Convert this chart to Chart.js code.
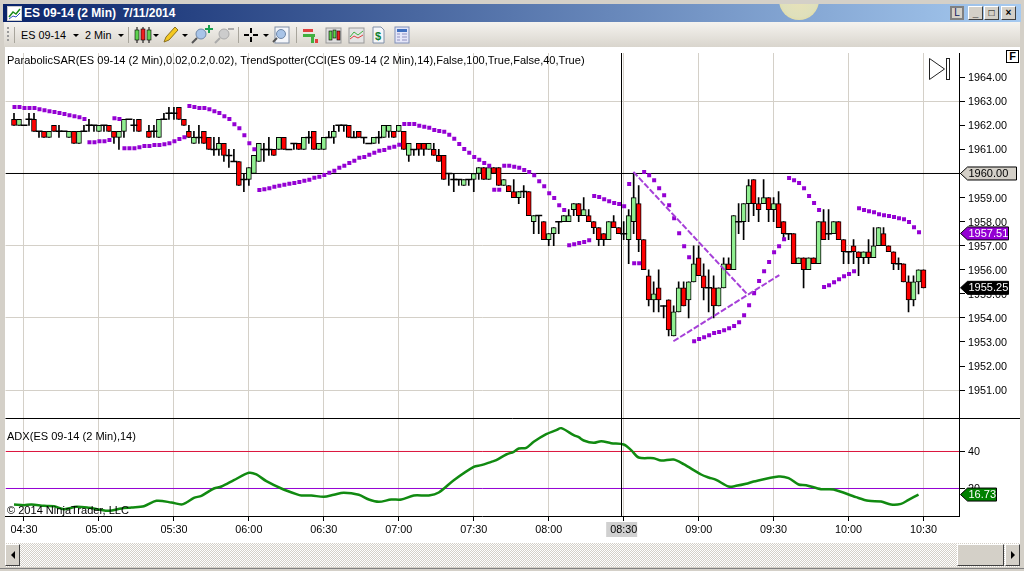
<!DOCTYPE html>
<html>
<head>
<meta charset="utf-8">
<title>ES 09-14 (2 Min)</title>
<script src="https://cdn.jsdelivr.net/npm/chart.js@4/dist/chart.umd.min.js"></script>
<style>
html, body { margin: 0; padding: 0; width: 1024px; height: 571px; overflow: hidden; background: #d4d0c8; font-family: "Liberation Sans", Arial, sans-serif; }
div, svg, canvas { position: absolute; }
#titlebar { left: 3px; top: 4px; width: 1018px; height: 18px; overflow: hidden; background: linear-gradient(to right, #0a246a, #a6caf0); }
#sun { left: 776px; top: -24px; width: 40px; height: 40px; border-radius: 50%; background: radial-gradient(circle at 50% 50%, #e8e2b8 0, #dfe0bc 60%, #e6d98e 92%, #d8d2a0 100%); }
#titletext { left: 21px; top: 2px; color: #fff; font: bold 12px "Liberation Sans", sans-serif; white-space: pre; }
.winbtn { top: 6px; height: 14px; width: 15px; background: #d4d0c8; border-top: 1px solid #fff; border-left: 1px solid #fff; border-right: 1px solid #404040; border-bottom: 1px solid #404040; box-sizing: border-box; color: #000; font: bold 10px "Liberation Sans"; text-align: center; line-height: 12px; }
#toolbar { left: 4px; top: 22px; width: 1016px; height: 25px; background: linear-gradient(to bottom, #f5f3ef, #d9d5cd); }
.tbtext { top: 7px; font: 10.8px "Liberation Sans"; color: #000; }
.sep { top: 5px; width: 1px; height: 16px; background: #a8a59c; }
#panel { left: 5px; top: 47px; width: 1015px; height: 496px; background: #fff; }
#chart { left: 0; top: 47px; }
.lbl { font: 11.05px "Liberation Sans"; color: #000; white-space: pre; }
#fbox { left: 1006px; top: 50px; width: 13px; height: 13px; border: 1px solid #000; box-sizing: border-box; font: bold 11px "Liberation Sans"; text-align: center; line-height: 11px; background: #fff; }
#track { left: 5px; top: 543px; width: 1015px; height: 24px; background: repeating-conic-gradient(#d4d0c8 0 25%, #fff 0 50%) 0 0 / 2px 2px; }
.sbtn { top: 544px; height: 22px; background: #d4d0c8; border-top: 1px solid #fff; border-left: 1px solid #fff; border-right: 1px solid #404040; border-bottom: 1px solid #404040; box-sizing: border-box; }
#bottomline { left: 0; top: 568px; width: 1024px; height: 1px; background: #808080; }
</style>
</head>
<body>
<div id="titlebar">
  <div id="sun"></div>
  <div id="titletext">ES 09-14 (2 Min)  7/11/2014</div>
</div>
<svg style="left:7px;top:6px" width="15" height="15"><rect x=".5" y=".5" width="14" height="14" fill="#fff" stroke="#ccc"/><polyline points="2,11 6,6 9,8 13,3" fill="none" stroke="#1a8a1a" stroke-width="1.5"/><polyline points="2,13 6,10 9,11 13,7" fill="none" stroke="#3050c0"/></svg>
<div class="winbtn" style="left:950px;width:14px;background:#8c8c8c;border:2px solid #808080;padding:0;"><span style="display:block;background:#d4d0c8;color:#102060;line-height:10px;font-weight:normal">L</span></div>
<div class="winbtn" style="left:968px">_</div>
<div class="winbtn" style="left:984px">□</div>
<div class="winbtn" style="left:1001px">×</div>

<div id="toolbar">
  <div style="left:3px;top:5px;width:2px;height:16px;background:repeating-linear-gradient(#999 0 2px,transparent 2px 4px)"></div>
  <div class="sep" style="left:10px"></div>
  <div class="tbtext" style="left:17px">ES 09-14</div>
  <div class="tbtext" style="left:81px">2 Min</div>
  <div class="sep" style="left:124px"></div>
  <div class="sep" style="left:234px"></div>
  <div class="sep" style="left:292px"></div>
  <svg style="left:0;top:0" width="420" height="25">
    <g fill="#000">
      <path d="M69 12h6l-3 3z"/><path d="M114 12h6l-3 3z"/><path d="M149 12h6l-3 3z"/><path d="M178 12h6l-3 3z"/><path d="M259 12h6l-3 3z"/>
    </g>
    <g stroke="#000"><line x1="133" y1="5" x2="133" y2="21"/><line x1="139" y1="5" x2="139" y2="21"/><line x1="145" y1="5" x2="145" y2="21"/></g>
    <rect x="131" y="8" width="4" height="10" fill="#5fd24f" stroke="#000" stroke-width=".6"/><rect x="137" y="7" width="4" height="11" fill="#f02020" stroke="#000" stroke-width=".6"/><rect x="143" y="8" width="4" height="10" fill="#5fd24f" stroke="#000" stroke-width=".6"/>
    <path d="M160 20l2-5 9-10 3 3-9 10z" fill="#f4c820" stroke="#8a7020"/>
    <circle cx="197" cy="12" r="5" fill="#a8c4e8" stroke="#7088a8"/><line x1="193" y1="16" x2="188" y2="21" stroke="#555" stroke-width="2"/><path d="M201 6h3v-3h2v3h3v2h-3v3h-2v-3h-3z" fill="#18a050"/>
    <circle cx="220" cy="12" r="5" fill="#ccc" stroke="#aaa"/><line x1="216" y1="16" x2="211" y2="21" stroke="#aaa" stroke-width="2"/><rect x="224" y="6" width="6" height="2" fill="#aaa"/>
    <path d="M240 13h5M249 13h5M247 6v5M247 15v5" stroke="#000" stroke-width="2"/>
    <rect x="271" y="5" width="14" height="16" fill="#f4f6fa" stroke="#8090a8"/><circle cx="277" cy="12" r="4.5" fill="#a8c4e8" stroke="#7088a8"/><line x1="273" y1="16" x2="269" y2="20" stroke="#555" stroke-width="2"/>
    <rect x="299" y="7" width="10" height="3" fill="#e04040"/><rect x="299" y="12" width="12" height="3" fill="#40b040"/><rect x="307" y="15" width="3" height="6" fill="#40b040"/><rect x="311" y="17" width="3" height="4" fill="#e04040"/>
    <rect x="322" y="6" width="15" height="15" fill="#ddd" stroke="#999"/><rect x="325" y="9" width="3" height="9" fill="#5fd24f" stroke="#000" stroke-width=".6"/><rect x="329" y="8" width="3" height="8" fill="#5fd24f" stroke="#000" stroke-width=".6"/><rect x="333" y="9" width="3" height="9" fill="#f02020" stroke="#000" stroke-width=".6"/>
    <rect x="345" y="6" width="15" height="15" fill="#e4e4e4" stroke="#999"/><polyline points="346,15 350,10 354,13 359,9" fill="none" stroke="#40b040"/><polyline points="346,17 350,14 354,16 359,13" fill="none" stroke="#e04040"/>
    <path d="M369 5h8l3 3v13h-11z" fill="#f4f6fa" stroke="#8090a8"/><text x="371" y="18" font-family="Liberation Sans" font-weight="bold" font-size="11" fill="#108030">$</text>
    <rect x="391" y="5" width="14" height="16" fill="#e4e6f8" stroke="#8090b8"/><rect x="393" y="7" width="10" height="3" fill="#4070c0"/><path d="M393 12h3M398 12h5M393 15h3M398 15h5M393 18h3M398 18h5" stroke="#9090c0"/>
  </svg>
</div>

<div id="panel"></div>
<div id="track"></div>
<div class="sbtn" style="left:5px;width:15px"><svg style="left:4px;top:6px" width="6" height="9"><path d="M5 0v8l-4-4z" fill="#000"/></svg></div>
<div class="sbtn" style="left:957px;width:47px"></div>
<div class="sbtn" style="left:1005px;width:15px"><svg style="left:4px;top:6px" width="6" height="9"><path d="M1 0v8l4-4z" fill="#000"/></svg></div>
<div id="bottomline"></div>

<canvas id="chart" width="1024" height="496"></canvas>

<div class="lbl" style="left:7px;top:54px">ParabolicSAR(ES 09-14 (2 Min),0.02,0.2,0.02), TrendSpotter(CCI(ES 09-14 (2 Min),14),False,100,True,False,40,True)</div>
<div class="lbl" style="left:7px;top:430px">ADX(ES 09-14 (2 Min),14)</div>
<div class="lbl" style="left:7px;top:504px">© 2014 NinjaTrader, LLC</div>
<div id="fbox">F</div>
<svg style="left:928px;top:57px" width="24" height="24"><path d="M1.5 1.5v21l15-10.500z" fill="#fff" stroke="#222"/><rect x="18.500" y="1.500" width="3" height="21" fill="#fff" stroke="#222"/></svg>

<script>
// Bars, one every 2 minutes from 04:26 to 10:30. null = no bar printed
const firstBarTime = "04:26";
const opens = [
  1962.25,1962,1962,1962.25,1962.25,1961.75,1961.75,1961.5,1962,1961.75,
  1961.75,1961.5,1961.75,1961.25,1961.75,1962,1962,1961.75,1962,1962,
  1961.75,1961.5,1961.75,1962.25,1962,1962.25,null,1961.75,1961.75,1961.5,
  1962.25,1962.5,1962.5,1962.75,1962.25,1961.75,1961.25,1961.5,1961.75,1961.5,
  1961,1961,1961.25,1960.75,1960.5,1960.5,1959.75,1959.75,1960,1960.5,
  1961,1961,1961,1961,1961.5,1961,1961.25,1961.25,1961,1961.5,
  1961.75,1961,1961,1961.5,1961.5,1962,1962,1962,1961.5,1961.75,
  1961.5,1961.25,1961.25,1961.5,1961.5,1961.75,1961.75,1961.75,1961.75,1960.75,
  1961,1961.25,1961.25,1961,1961,1960.75,1960.75,1960,1959.75,1959.75,
  1959.5,1959.75,1959.75,1960,1960.25,1959.75,1960.25,1960.25,1959.5,1959.5,
  1959.25,1959,1959.25,1959.25,1958,1958.25,1958,1957.25,1957.5,1958,
  1958,1958,1958.5,1958.75,1958.25,1958.25,1958,1957.75,1957.5,1957.25,
  1958,1957.75,1957.5,1957.25,1958,1958.75,1957.25,1955.75,1954.75,1955.25,
  1954.5,1954.75,1953.25,1954.25,1955.25,1954.75,1955.5,1956.5,1955.75,1955.25,
  1955.25,1954.5,1955.25,1956.25,1956,1958,1958,1958.75,1959.75,1958.75,
  1958.75,1959,1958.5,1958.75,1958,1957.5,1957.5,1956.25,1956.5,1956,
  1956.5,1956.25,1958,1957.5,1957.5,1958,1957.25,1956.75,1957,1956.75,
  1956.5,1956.75,1956.5,1957,1957.5,1957,1956.75,1956.25,1956.25,1955.5,
  1954.75,1955.5,1956
];
const highs = [
  1962.5,1962.25,1962,1962.5,1962.5,1961.75,1961.75,1961.75,1962,1962,
  1961.75,1961.75,1961.75,1961.75,1962,1962.25,1962,1962,1962,1962,
  1961.75,1961.75,1962.25,1962.25,1962.25,1962.25,null,1962,1962,1962.25,
  1962.5,1962.75,1962.75,1962.75,1962.25,1962,1961.75,1962,1961.75,1961.5,
  1961.5,1961.5,1961.25,1961,1961,1960.5,1960,1960.25,1960.75,1961.25,
  1961.25,1961.5,1961,1961.5,1961.5,1961,1961.25,1961.25,1961.5,1961.75,
  1961.75,1961.25,1961.5,1961.75,1962,1962,1962,1962,1961.75,1961.75,
  1961.5,1961.25,1961.5,1961.75,1962,1962,1961.75,1962,1961.75,1961.25,
  1961,1961.25,1961.25,1961.25,1961.25,1961,1960.75,1960,1960,1959.75,
  1959.75,1959.75,1960,1960.25,1960.25,1960.25,1960.25,1960.25,1959.75,1959.5,
  1959.75,1959.25,1959.5,1959.25,1958.25,1958.25,1958,1957.5,1957.75,1958,
  1958.25,1958.5,1958.75,1958.75,1959,1958.5,1958,1957.75,1957.5,1958,
  1958.25,1957.75,1958,1958.5,1960,1959.5,1957.25,1956,1955.5,1956,
  1954.5,1954.75,1954.5,1955.5,1955.5,1955.5,1957,1957,1956.25,1956,
  1955.75,1955.25,1956.5,1956.5,1958.25,1958.75,1958.75,1959.75,1959.75,1959,
  1959.75,1959,1959,1959.25,1958,1957.5,1957.5,1956.5,1956.5,1956.5,
  1956.5,1958,1958.5,1958.5,1958,1958,1957.25,1956.75,1957.25,1956.75,
  1956.75,1957.25,1957.75,1957.75,1957.75,1957,1956.75,1956.5,1956.25,1955.75,
  1955.75,1956,1956
];
const lows = [
  1962,1962,1962,1962,1961.75,1961.5,1961.5,1961.5,1961.75,1961.5,
  1961.75,1961.5,1961.25,1961.25,1961.75,1961.75,1961.75,1961.75,1961.75,1961.75,
  1961.25,1961,1961.5,1962.25,1961.75,1961.75,null,1961.5,1961.5,1961.5,
  1962.25,1962.25,1962.25,1962.25,1962,1961.5,1961.25,1961.25,1961.25,1961,
  1960.75,1960.75,1960.5,1960.25,1960.5,1959.5,1959.25,1959.5,1960,1960.5,
  1960.5,1960.75,1960.75,1961,1961,1961,1961,1961,1961,1961.25,
  1961,1961,1961,1961.5,1961.25,1961.75,1961.75,1961.5,1961.5,1961.5,
  1961.25,1961.25,1961.25,1961.25,1961.5,1961.5,1961.5,1961.75,1961,1960.5,
  1960.75,1960.75,1960.75,1961,1960.75,1960.5,1959.75,1959.5,1959.25,1959.5,
  1959.5,1959.5,1959.25,1959.75,1959.75,1959.75,1960,1959.5,1959.5,1959.25,
  1959,1958.75,1959,1958.25,1957.5,1957.5,1957.25,1957,1957,1957.5,
  1958,1958,1958.25,1958,1958.25,1958,1957.5,1957,1957,1957.25,
  1957.75,1957.5,1957.25,1956.25,1957.5,1956.75,1956,1954.5,1954.25,1954.25,
  1954,1953.25,1953.25,1954.25,1954.5,1954,1955.5,1955.75,1954.75,1954.25,
  1954,1954.5,1955.25,1956,1956,1957.5,1957.25,1958,1958.25,1958,
  1958.75,1958,1958,1957.75,1957.25,1957.25,1956.25,1956.25,1955.25,1956,
  1956.25,1956.25,1957.25,1957.25,1957.5,1957.25,1956.25,1956.25,1956.25,1955.75,
  1956.25,1956.25,1956.5,1957,1957,1956.75,1956,1956,1955.5,1954.25,
  1954.5,1955,1955.25
];
const closes = [
  1962,1962.25,1962,1962.25,1961.75,1961.75,1961.5,1961.75,1961.75,1961.75,
  1961.75,1961.75,1961.25,1961.75,1961.75,1962,1962,1962,1962,1961.75,
  1961.5,1961.75,1962.25,1962.25,1962,1961.75,null,1961.5,1961.75,1962.25,
  1962.25,1962.5,1962.5,1962.25,1962,1961.5,1961.5,1961.5,1961.25,1961,
  1961,1961.25,1960.75,1960.75,1960.5,1959.5,1959.75,1960.25,1960.75,1961.25,
  1961,1961,1960.75,1961.5,1961,1961,1961.25,1961,1961.5,1961.5,
  1961,1961.25,1961.5,1961.5,1961.75,1962,1962,1961.5,1961.5,1961.5,
  1961.5,1961.25,1961.5,1961.5,1962,1962,1961.5,1962,1961,1961.25,
  1961,1961,1961,1961.25,1960.75,1960.5,1959.75,1960,1959.75,1959.75,
  1959.75,1959.75,1960,1960.25,1959.75,1960.25,1960,1959.5,1959.75,1959.25,
  1959,1959.25,1959.25,1958.25,1958.25,1958.25,1957.25,1957.5,1957.75,1958,
  1958.25,1958.25,1958.75,1958.25,1958.5,1958,1957.75,1957.25,1957.25,1958,
  1957.75,1957.5,1957.5,1958.25,1959,1957.25,1956,1954.75,1955,1954.75,
  1954.5,1953.5,1954.25,1955.25,1954.5,1955.5,1956.25,1955.75,1955.25,1955.25,
  1954.5,1955.25,1956.25,1956,1958.25,1958,1958.75,1959.5,1958.75,1958.5,
  1959,1958.5,1958.75,1957.75,1957.5,1957.5,1956.25,1956.5,1956,1956.5,
  1956.25,1958,1957.25,1957.5,1958,1957.25,1956.75,1956.75,1956.75,1956.5,
  1956.75,1956.5,1957,1957.75,1957,1956.75,1956.25,1956.25,1955.5,1954.75,
  1955.5,1956,1955.25
];

// Parabolic SAR, one value per bar
const sarValues = [
  1962.76,1962.76,1962.72,1962.72,1962.72,1962.67,1962.63,1962.59,1962.55,1962.51,
  1962.47,1962.42,1962.38,1962.34,1962.26,1961.30,1961.30,1961.34,1961.34,1961.39,
  1962.30,1962.26,1961.05,1961.05,1961.05,1961.09,1961.14,1961.14,1961.18,1961.18,
  1961.22,1961.26,1961.34,1961.43,1961.51,1962.80,1962.76,1962.72,1962.72,1962.67,
  1962.59,1962.51,1962.38,1962.26,1962.05,1961.88,1961.59,1961.26,1961.01,1959.31,
  1959.35,1959.39,1959.45,1959.49,1959.53,1959.57,1959.61,1959.65,1959.70,1959.74,
  1959.82,1959.86,1959.94,1960.03,1960.11,1960.24,1960.32,1960.44,1960.53,1960.65,
  1960.69,1960.78,1960.86,1960.94,1960.98,1961.07,1961.11,1961.19,1962.06,1962.06,
  1962.06,1961.98,1961.94,1961.90,1961.81,1961.77,1961.73,1961.61,1961.44,1961.23,
  1961.02,1960.86,1960.69,1960.57,1960.44,1960.32,1959.32,1959.32,1960.32,1960.32,
  1960.28,1960.24,1960.15,1960.06,1959.93,1959.68,1959.47,1959.18,1958.98,1958.68,
  1958.48,1957.02,1957.06,1957.11,1957.15,1957.23,1959.06,1959.02,1958.93,1958.85,
  1958.77,1958.73,1958.64,1959.56,1956.27,1956.27,1960.06,1959.93,1959.72,1959.39,
  1959.10,1958.68,1958.14,1957.52,1956.98,1956.52,1953.03,1953.12,1953.20,1953.28,
  1953.37,1953.41,1953.49,1953.57,1953.66,1953.82,1954.11,1954.53,1955.03,1955.53,
  1955.94,1956.32,1956.73,1956.98,1957.27,1959.81,1959.72,1959.60,1959.39,1959.06,
  1958.77,1958.48,1955.28,1955.36,1955.48,1955.61,1955.73,1955.82,1955.94,1958.56,
  1958.48,1958.43,1958.39,1958.31,1958.27,1958.23,1958.19,1958.14,1958.10,1957.98,
  1957.77,1957.56,null
];

// ADX, read at the bends of the curve
const adxTimes = [
  266,270,273,278,282,286,291,296,300,304,309,313,318,323,329,333,335,338,341,346,
  349,354,360,363,367,373,379,381,385,390,394,398,404,408,412,417,421,426,432,436,
  442,450,453,457,459,463,466,468,471,474,479,483,485,490,492,494,498,501,505,510,
  513,516,522,525,530,534,541,544,547,552,555,559,562,572,576,580,583,589,594,603,
  608,613,617,621,624,628
];
const adxValues = [
  11.35,10.99,11.35,10.63,10.45,8.83,10.09,9.55,8.65,7.93,9.19,9.73,10.45,13.33,12.43,11.35,12.43,14.95,16.04,20,
  21.08,24.5,28.47,27.57,23.96,20,16.94,16.22,16.22,15.5,16.58,17.66,16.58,14.05,12.79,14.05,14.05,16.22,16.22,17.84,
  24.5,31.71,32.61,34.41,35.32,38.38,39.82,41.62,41.98,45.23,49.37,51.53,52.61,48.83,47.75,45.95,44.68,45.59,44.5,43.78,
  40.72,36.76,36.4,35.14,35.68,33.15,27.57,25.95,24.68,21.08,21.44,22.52,23.78,26.49,25.59,22.16,21.8,19.64,19.46,15.32,
  13.33,12.97,11.35,11.71,13.87,16.73
];

// Hand drawn trend lines [time, price]
const trendDown = [["08:33:54", 1960.07], ["09:19:18", 1955]];
const trendUp = [["08:49:54", 1953.03], ["09:32:18", 1955.78]];

// Axis ticks
const timeTicks = ["04:30","05:00","05:30","06:00","06:30","07:00","07:30","08:00","08:30","09:00","09:30","10:00","10:30"];
const priceTicks = [1951,1952,1953,1954,1955,1956,1957,1958,1959,1960,1961,1962,1963,1964];
const priceGrid = [1951,1954,1957,1960,1963];
const adxTicks = [20,40];

// Current values shown as flags on the axes
const priceLine = 1960;
const sarLast = 1957.51;
const closeLast = 1955.25;
const adxLast = 16.73;
const adxLevels = [40, 20];
const crossTime = "08:29:12";

// x axis runs in minutes after midnight, y ranges set to match the panes
const xMin = 262.6, xMax = 644.2;
const priceMin = 1949.842, priceMax = 1965.006;
const adxMin = 5.135, adxMax = 58.108;
// SAR squares sit half a pixel right of the bar centre (0.2 min)
const sarShift = 0.2;

function toMin(t) {
    const p = t.split(":").map(Number);
    return p[0] * 60 + p[1] + (p[2] || 0) / 60;
}
function barTime(i) {
    return toMin(firstBarTime) + i * 2;
}
function fmtTime(m) {
    const h = Math.floor(m / 60), mm = Math.round(m - h * 60);
    return String(h).padStart(2, "0") + ":" + String(mm).padStart(2, "0");
}

const wickData = [], bodyData = [], bodyColors = [], dojiData = [], sarData = [];
opens.forEach((o, i) => {
    if (o === null) return;
    wickData.push({ x: barTime(i), y: [lows[i], highs[i]] });
    if (o === closes[i]) {
        dojiData.push({ x: barTime(i), y: o });
    } else {
        bodyData.push({ x: barTime(i), y: [o, closes[i]] });
        bodyColors.push(closes[i] > o ? "#90ee90" : "#ff0000");
    }
});
sarValues.forEach((v, i) => {
    if (v !== null) sarData.push({ x: barTime(i) + sarShift, y: v });
});
const adxData = adxTimes.map((t, i) => ({ x: t, y: adxValues[i] }));

function hLine(value, axis, color, order) {
    return {
        type: "line", data: [{ x: xMin, y: value }, { x: xMax, y: value }], yAxisID: axis, order: order,
        borderColor: color, borderWidth: 1, pointRadius: 0
    };
}
function trendLine(pts) {
    return {
        type: "line", data: pts.map(p => ({ x: toMin(p[0]), y: p[1] })), yAxisID: "y", order: 1,
        borderColor: "#a640d8", borderWidth: 2, borderDash: [6, 2], pointRadius: 0
    };
}
// keep the pane edges where they are, whatever the tick labels want
function noAxisPadding(axis) {
    axis.paddingTop = 0;
    axis.paddingBottom = 0;
    axis.paddingLeft = 0;
    axis.paddingRight = 0;
}

// Draws the crosshair, pane divider and the value flags
function flag(ctx, x0, x1, y, text, bg, fg) {
    ctx.beginPath();
    ctx.moveTo(x0, y);
    ctx.lineTo(x0 + 7, y - 6.5);
    ctx.lineTo(x1, y - 6.5);
    ctx.lineTo(x1, y + 6.5);
    ctx.lineTo(x0 + 7, y + 6.5);
    ctx.closePath();
    ctx.fillStyle = bg;
    ctx.fill();
    ctx.strokeStyle = "#000";
    ctx.lineWidth = 1;
    ctx.stroke();
    ctx.fillStyle = fg;
    ctx.font = '11px "Liberation Sans"';
    ctx.textAlign = "left";
    ctx.textBaseline = "middle";
    ctx.fillText(text, x0 + 8, y + 0.5);
}

const overlayPlugin = {
    id: "overlay",
    beforeDraw(chart) {
        const { ctx, scales } = chart;
        const px = scales.x.getPixelForValue(toMin(crossTime));
        ctx.fillStyle = "#d0d0d0";
        ctx.fillRect(px - 15.5, 475, 31, 15);
    },
    afterDatasetsDraw(chart) {
        const { ctx, scales, chartArea } = chart;
        const px = Math.floor(scales.x.getPixelForValue(toMin(crossTime))) + 0.5;
        ctx.save();
        ctx.strokeStyle = "#000";
        ctx.lineWidth = 1;
        ctx.beginPath();
        ctx.moveTo(px, chartArea.top);
        ctx.lineTo(px, chartArea.bottom);
        ctx.moveTo(chartArea.left, scales.yAdx.top + 0.5);
        ctx.lineTo(1020, scales.yAdx.top + 0.5);
        ctx.stroke();
        ctx.restore();
    },
    afterDraw(chart) {
        const { ctx, scales } = chart;
        ctx.save();
        flag(ctx, 960.5, 1016.5, scales.y.getPixelForValue(priceLine), priceLine.toFixed(2), "#d4d0c8", "#000");
        flag(ctx, 960.5, 1008.5, scales.y.getPixelForValue(sarLast), sarLast.toFixed(2), "#9400d3", "#fff");
        flag(ctx, 960.5, 1008.5, scales.y.getPixelForValue(closeLast), closeLast.toFixed(2), "#000", "#fff");
        flag(ctx, 960.5, 996.5, scales.yAdx.getPixelForValue(adxLast), adxLast.toFixed(2), "#008000", "#fff");
        ctx.restore();
    }
};

const gridColor = "#d4d0c8";
const tickFont = { family: "Liberation Sans", size: 10.8 };

new Chart(document.getElementById("chart").getContext("2d"), {
    type: "bar",
    data: {
        datasets: [
            hLine(priceLine, "y", "#000", 6),
            { data: wickData, order: 5, backgroundColor: "#000", barThickness: 1, grouped: false, borderWidth: 0 },
            { data: bodyData, order: 4, backgroundColor: bodyColors, borderColor: "#000", borderWidth: 1, borderSkipped: false, barThickness: 5, grouped: false },
            { type: "scatter", data: dojiData, order: 3, pointStyle: "line", pointRadius: 3.5, borderColor: "#000", borderWidth: 1.5 },
            { type: "scatter", data: sarData, order: 2, pointStyle: "rect", pointRadius: 2.83, backgroundColor: "#9400d3", borderWidth: 0 },
            trendLine(trendDown),
            trendLine(trendUp),
            hLine(adxLevels[0], "yAdx", "#dc143c", 6),
            hLine(adxLevels[1], "yAdx", "#9400d3", 6),
            { type: "line", data: adxData, yAxisID: "yAdx", order: 1, borderColor: "#118a11", borderWidth: 2.5, pointRadius: 0, tension: 0.3 }
        ]
    },
    options: {
        responsive: false,
        animation: false,
        devicePixelRatio: 1,
        layout: { padding: { left: 5, top: 6, right: 0, bottom: 0 } },
        plugins: { legend: { display: false }, tooltip: { enabled: false } },
        scales: {
            x: {
                type: "linear", min: xMin, max: xMax, offset: false,
                afterFit(axis) { axis.height = 27; noAxisPadding(axis); },
                afterBuildTicks(axis) { axis.ticks = timeTicks.map(t => ({ value: toMin(t) })); },
                grid: { offset: false, color: gridColor, tickColor: "#000", tickLength: 5, drawTicks: true },
                border: { color: "#000" },
                ticks: {
                    color: "#000", font: tickFont, padding: 3, maxRotation: 0, autoSkip: false,
                    callback: v => fmtTime(v)
                }
            },
            y: {
                position: "right", stack: "panes", stackWeight: 365, min: priceMin, max: priceMax,
                afterFit(axis) { axis.width = 65; noAxisPadding(axis); },
                afterBuildTicks(axis) { axis.ticks = priceTicks.map(v => ({ value: v })); },
                grid: {
                    color: ctx => priceGrid.includes(ctx.tick.value) ? gridColor : "rgba(0,0,0,0)",
                    tickColor: "#000", tickLength: 6
                },
                border: { color: "#000" },
                ticks: { color: "#000", font: tickFont, padding: 3, labelOffset: 1, autoSkip: false, callback: v => v.toFixed(2) }
            },
            yAdx: {
                position: "right", stack: "panes", stackWeight: 98, min: adxMin, max: adxMax,
                afterFit(axis) { axis.width = 65; noAxisPadding(axis); },
                afterBuildTicks(axis) { axis.ticks = adxTicks.map(v => ({ value: v })); },
                grid: { color: "rgba(0,0,0,0)", tickColor: "#000", tickLength: 6 },
                border: { color: "#000" },
                ticks: { color: "#000", font: tickFont, padding: 3, labelOffset: 1, autoSkip: false }
            }
        }
    },
    plugins: [overlayPlugin]
});
</script>
</body>
</html>
